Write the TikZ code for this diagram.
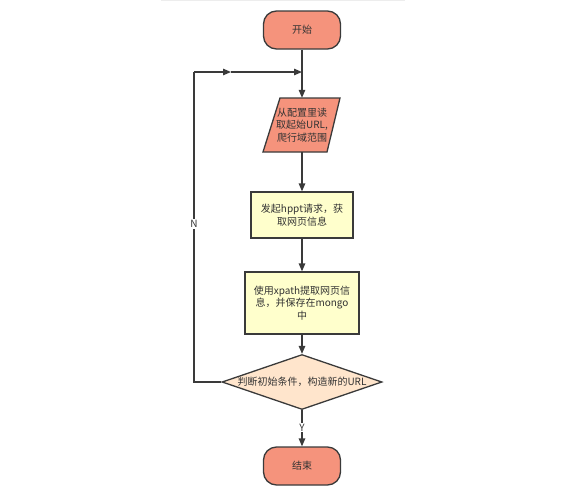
\documentclass[tikz,border=0pt]{standalone}
\usepackage{fontspec}
\setmainfont{Noto Sans CJK SC}
\usetikzlibrary{arrows.meta,shapes.geometric}
\definecolor{salmon}{HTML}{F5937C}
\definecolor{paleyel}{HTML}{FFFFCC}
\definecolor{peach}{HTML}{FFE5CC}
\definecolor{edge}{HTML}{3A3A3A}
\definecolor{txt}{HTML}{333333}
\tikzset{
  base/.style={draw=edge, line width=1.3pt, text=txt, font=\fontsize{10}{12.5}\selectfont, align=center, inner sep=0pt},
  term/.style={base, fill=salmon, rounded corners=13pt, minimum width=77pt, minimum height=38pt},
  proc/.style={base, fill=paleyel},
  cond/.style={base, fill=peach, diamond, aspect=2.9, minimum width=160pt, minimum height=55pt},
  arr/.style={draw=edge, line width=1.3pt, -{Triangle[length=8pt,width=6.5pt]}},
  ln/.style={draw=edge, line width=1.3pt},
  lbl/.style={fill=white, text=txt, font=\fontsize{10}{12}\selectfont, inner sep=1pt}
}
\begin{document}
\begin{tikzpicture}[x=1pt,y=-1pt]
\useasboundingbox (0,0) rectangle (566,491);
\draw[draw=black!7, line width=1.5pt] (161,0.5) -- (405,0.5);
% nodes
\node[term] (start) at (302,30) {开始};
\fill[salmon] (280,98) -- (340,98) -- (327,152) -- (263,152) -- cycle;
\draw[ln, line join=miter] (280,98) -- (340,98) -- (327,152) -- (263,152) -- cycle;
\node[text=txt, font=\fontsize{10}{12.5}\selectfont, align=center, inner sep=0pt, minimum width=60pt, minimum height=54pt] (para) at (302,125) {从配置里读\\取起始URL,\\爬行域范围};
\node[proc, minimum width=102pt, minimum height=46pt] (req) at (302,215) {发起hppt请求，获\\取网页信息};
\node[proc, minimum width=114pt, minimum height=62pt] (parse) at (302,303) {使用xpath提取网页信\\息，并保存在mongo\\中};
\node[cond] (dec) at (302,382) {};
\node[text=txt, font=\fontsize{10}{12}\selectfont, inner sep=0pt] (dectext) at (302,382) {判断初始条件，构造新的URL};
\node[term] (end) at (302,466) {结束};
% loop coordinates
\coordinate (lb) at (194,382);
\coordinate (lt) at (194,72);
\coordinate (mid) at (231,72);
\coordinate (join) at (302,72);
% connectors
\draw[arr] (start) -- (para);
\draw[arr] (para) -- (req);
\draw[arr] (req) -- (parse);
\draw[arr] (parse) -- (dec);
\draw[arr] (dec) -- node[lbl, pos=0.48] (ylab) {Y} (end);
\draw[ln] (dec.west) -- (lb) -- node[lbl, pos=0.51] (nlab) {N} (lt);
\draw[arr] (lt) -- (mid);
\draw[arr] (mid) -- (join);
\end{tikzpicture}
\end{document}
